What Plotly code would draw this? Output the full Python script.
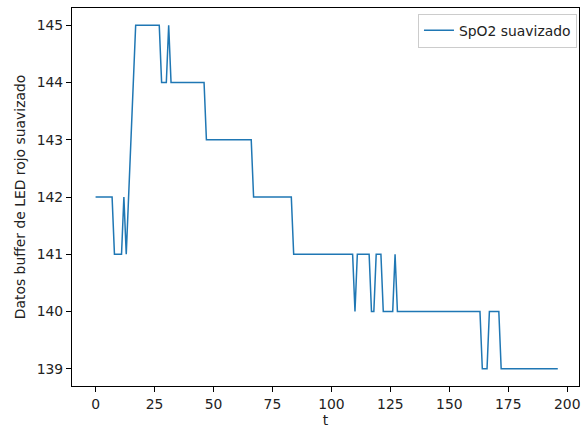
import plotly.graph_objects as go

# Data
t = list(range(197))
spo2 = [
    142, 142, 142, 142, 142, 142, 142, 142,            # 0-7
    141, 141, 141, 141,                                # 8-11
    142, 141, 142, 143, 144,                           # 12-16
    145, 145, 145, 145, 145, 145, 145, 145, 145, 145, 145,  # 17-27
    144, 144, 144,                                     # 28-30
    145,                                               # 31
    144, 144, 144, 144, 144, 144, 144, 144, 144, 144, 144, 144, 144, 144, 144,  # 32-46
    143, 143, 143, 143, 143, 143, 143, 143, 143, 143,
    143, 143, 143, 143, 143, 143, 143, 143, 143, 143,  # 47-66
    142, 142, 142, 142, 142, 142, 142, 142, 142, 142,
    142, 142, 142, 142, 142, 142, 142,                 # 67-83
    141, 141, 141, 141, 141, 141, 141, 141, 141, 141,
    141, 141, 141, 141, 141, 141, 141, 141, 141, 141,
    141, 141, 141, 141, 141, 141,                      # 84-109
    140,                                               # 110
    141, 141, 141, 141, 141, 141,                      # 111-116
    140, 140,                                          # 117-118
    141, 141, 141,                                     # 119-121
    140, 140, 140, 140, 140,                           # 122-126
    141,                                               # 127
    140, 140, 140, 140, 140, 140, 140, 140, 140, 140,
    140, 140, 140, 140, 140, 140, 140, 140, 140, 140,
    140, 140, 140, 140, 140, 140, 140, 140, 140, 140,
    140, 140, 140, 140, 140, 140,                      # 128-163
    139, 139, 139,                                     # 164-166
    140, 140, 140, 140, 140,                           # 167-171
    139, 139, 139, 139, 139, 139, 139, 139, 139, 139,
    139, 139, 139, 139, 139, 139, 139, 139, 139, 139,
    139, 139, 139, 139, 139,                           # 172-196
]

x_ticks = [0, 25, 50, 75, 100, 125, 150, 175, 200]
y_ticks = [139, 140, 141, 142, 143, 144, 145]

series_name = "SpO2 suavizado"
x_label = "t"
y_label = "Datos buffer de LED rojo suavizado"

fig = go.Figure()
fig.add_trace(go.Scatter(
    x=t, y=spo2, mode="lines", name=series_name,
    line=dict(color="#1f77b4", width=1.5),
    showlegend=True,
))

font_family = "DejaVu Sans"
fs = 13.9
axis_common = dict(
    showgrid=False, zeroline=False, automargin=False,
    showline=True, linecolor="black", linewidth=1.1, mirror=True,
    ticks="outside", ticklen=5, tickwidth=1.1, tickcolor="black",
    tickfont=dict(family=font_family, size=fs, color="#222"),
)

fig.update_layout(
    width=582, height=429,
    margin=dict(l=72, r=3, t=8, b=43),
    paper_bgcolor="white", plot_bgcolor="white",
    font=dict(family=font_family, size=fs, color="#222"),
    xaxis=dict(
        range=[-10.0, 205.0], tickvals=x_ticks,
        title=dict(text=x_label, font=dict(family=font_family, size=fs), standoff=1),
        **axis_common,
    ),
    yaxis=dict(
        range=[138.7, 145.3], tickvals=y_ticks,
        title=dict(text=y_label, font=dict(family=font_family, size=fs), standoff=7),
        **axis_common,
    ),
    legend=dict(
        x=0.996, y=0.985, xanchor="right", yanchor="top",
        bgcolor="white", bordercolor="#cccccc", borderwidth=1,
        font=dict(family=font_family, size=fs, color="#222"),
        itemwidth=30,
    ),
)

fig.write_html(
    "out.html",
    config={"displayModeBar": False},
    post_script="document.body.style.margin='0';document.body.style.padding='0';",
)
